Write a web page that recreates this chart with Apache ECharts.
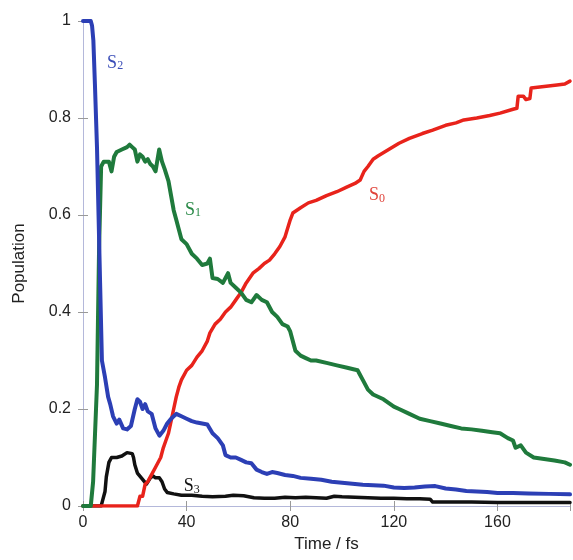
<!DOCTYPE html>
<html>
<head>
<meta charset="utf-8">
<script src="https://cdn.jsdelivr.net/npm/echarts@6/dist/echarts.min.js"></script>
<style>
  html, body { margin: 0; padding: 0; background: #fff; }
  #chart { width: 573px; height: 560px; }
</style>
</head>
<body>
<div id="chart"></div>
<script>
// Population dynamics of the electronic states S0–S3 versus time (fs)

const xTicks = [0, 40, 80, 120, 160];
const yTicks = [0, 0.2, 0.4, 0.6, 0.8, 1];

// S2 (blue)
const s2Time = [0, 3, 3.5, 4, 4.6, 5.4, 6, 6.6, 7.3, 8.5, 9.7, 10.5, 11.6, 13, 14, 15.5, 17, 18.5, 20, 21, 22, 23, 24, 25, 26.5, 28, 29.5, 31, 32.5, 34, 36, 38, 40, 42, 44, 46, 48, 50, 52, 54, 55, 57, 59, 61, 63, 65, 67, 69, 71, 73, 75, 78, 81, 84, 88, 92, 96, 100, 104, 108, 112, 116, 120, 124, 128, 132, 136, 140, 144, 148, 152, 156, 160, 166, 172, 180, 188];
const s2Pop  = [1.0, 1.0, 0.99, 0.96, 0.87, 0.74, 0.6, 0.46, 0.30, 0.265, 0.225, 0.21, 0.185, 0.17, 0.178, 0.16, 0.158, 0.165, 0.2, 0.22, 0.215, 0.2, 0.21, 0.195, 0.19, 0.16, 0.145, 0.155, 0.17, 0.18, 0.19, 0.185, 0.18, 0.175, 0.172, 0.17, 0.168, 0.15, 0.14, 0.125, 0.105, 0.1, 0.1, 0.095, 0.09, 0.088, 0.075, 0.07, 0.066, 0.07, 0.068, 0.064, 0.062, 0.058, 0.056, 0.054, 0.05, 0.048, 0.046, 0.044, 0.043, 0.042, 0.038, 0.037, 0.038, 0.04, 0.041, 0.036, 0.034, 0.031, 0.03, 0.029, 0.027, 0.027, 0.026, 0.025, 0.024];

// S1 (green)
const s1Time = [0, 3, 3.9, 5.4, 6.2, 7, 8, 10, 11, 12, 13, 15, 17, 18, 19, 20, 21, 22, 23, 24, 25, 26, 27, 28, 29.4, 30.5, 31.5, 33, 34, 35, 36, 37, 38, 40, 42, 44, 46, 48, 49, 50, 52, 54, 56, 57, 59, 61, 63, 65, 67, 69, 71, 73, 75, 77, 79, 80, 82, 84, 86, 88, 90, 94, 98, 102, 106, 108, 110, 112, 116, 120, 122, 126, 130, 134, 138, 142, 146, 150, 154, 158, 161, 164, 166, 167, 169, 171, 174, 178, 182, 186, 188];
const s1Pop  = [0, 0, 0.05, 0.25, 0.53, 0.70, 0.71, 0.71, 0.69, 0.72, 0.73, 0.735, 0.74, 0.745, 0.74, 0.735, 0.71, 0.725, 0.72, 0.71, 0.715, 0.705, 0.70, 0.69, 0.735, 0.71, 0.695, 0.67, 0.64, 0.61, 0.59, 0.57, 0.55, 0.54, 0.52, 0.51, 0.497, 0.50, 0.51, 0.47, 0.468, 0.46, 0.48, 0.46, 0.45, 0.44, 0.425, 0.42, 0.435, 0.425, 0.42, 0.40, 0.39, 0.375, 0.37, 0.36, 0.32, 0.31, 0.305, 0.30, 0.30, 0.295, 0.29, 0.285, 0.28, 0.26, 0.24, 0.23, 0.22, 0.205, 0.20, 0.19, 0.18, 0.175, 0.17, 0.165, 0.16, 0.158, 0.155, 0.152, 0.15, 0.14, 0.135, 0.12, 0.125, 0.11, 0.10, 0.097, 0.094, 0.09, 0.085];

// S0 (red)
const s0Time = [0, 21, 22, 23, 24, 25, 26, 28, 30, 31, 32, 33, 34, 35, 36, 37, 38, 40, 42, 44, 46, 48, 49, 51, 53, 55, 57, 59, 61, 63, 65.6, 68, 70, 72, 74, 76, 78, 80, 81, 84, 87, 90, 94, 98, 102, 105, 107, 108.5, 110, 112, 114, 118, 122, 126, 131, 135, 140, 144, 147, 152, 157, 161, 166, 167.5, 168, 170, 171, 172.5, 173, 178, 183, 186, 188];
const s0Pop  = [0, 0, 0.02, 0.02, 0.045, 0.05, 0.06, 0.08, 0.10, 0.12, 0.135, 0.15, 0.175, 0.20, 0.225, 0.245, 0.26, 0.28, 0.29, 0.307, 0.32, 0.34, 0.357, 0.375, 0.385, 0.40, 0.41, 0.425, 0.44, 0.46, 0.48, 0.49, 0.50, 0.507, 0.52, 0.535, 0.555, 0.59, 0.604, 0.615, 0.625, 0.63, 0.64, 0.648, 0.658, 0.665, 0.672, 0.69, 0.70, 0.715, 0.722, 0.735, 0.748, 0.758, 0.768, 0.775, 0.785, 0.79, 0.796, 0.80, 0.805, 0.81, 0.818, 0.82, 0.845, 0.845, 0.838, 0.84, 0.862, 0.865, 0.868, 0.87, 0.876];

// S3 (black)
const s3Time = [0, 7, 7.5, 8.5, 9, 10, 11, 13, 15, 17, 19, 19.5, 20, 21, 23, 24.5, 26, 27, 28, 29.5, 30.5, 31.5, 32.5, 35, 38, 42, 46, 50, 55, 58, 62, 66, 70, 74, 78, 82, 86, 90, 94, 97, 100, 105, 110, 115, 120, 125, 130, 134, 135, 140, 150, 160, 170, 180, 188];
const s3Pop  = [0, 0, 0.01, 0.03, 0.06, 0.09, 0.10, 0.10, 0.103, 0.11, 0.108, 0.10, 0.085, 0.068, 0.055, 0.045, 0.058, 0.062, 0.058, 0.058, 0.05, 0.035, 0.028, 0.025, 0.022, 0.022, 0.02, 0.019, 0.02, 0.022, 0.021, 0.017, 0.016, 0.016, 0.018, 0.017, 0.018, 0.017, 0.016, 0.02, 0.019, 0.018, 0.017, 0.016, 0.016, 0.015, 0.015, 0.014, 0.008, 0.008, 0.008, 0.007, 0.007, 0.007, 0.007];

// Curve annotations: [time, population]
const s2LabelAt = [12.4, 0.913];
const s1LabelAt = [42.5, 0.61];
const s0LabelAt = [113.5, 0.64];
const s3LabelAt = [42, 0.04];

const pairs = (t, v) => t.map((x, i) => [x, v[i]]);

const frameColor = '#b4b8da';
const serif = '"Liberation Serif", "DejaVu Serif", serif';

function stateLabel(coord, sub, color) {
  return {
    symbol: 'circle',
    symbolSize: 1,
    silent: true,
    itemStyle: { color: 'rgba(0,0,0,0)' },
    label: {
      show: true,
      position: 'inside',
      formatter: '{s|S}{b|' + sub + '}',
      rich: {
        s: { fontFamily: serif, fontSize: 18, color: color },
        b: { fontFamily: serif, fontSize: 12, color: color, verticalAlign: 'bottom', padding: [6, 0, 0, 0] }
      }
    },
    data: [{ coord: coord }]
  };
}

function lineSeries(name, data, color, width, labelCoord, sub, labelColor) {
  return {
    name: name,
    type: 'line',
    data: data,
    showSymbol: false,
    symbol: 'none',
    lineStyle: { color: color, width: width, join: 'round', cap: 'round' },
    itemStyle: { color: color },
    markPoint: stateLabel(labelCoord, sub, labelColor),
    z: 3
  };
}

const chart = echarts.init(document.getElementById('chart'), null, { renderer: 'canvas' });

const axisFont = { fontFamily: '"Liberation Sans", Arial, sans-serif', fontSize: 16, color: '#222' };

chart.setOption({
  animation: false,
  backgroundColor: '#fff',
  grid: { left: 83, right: 3, top: 21, bottom: 54, containLabel: false },
  xAxis: [
    {
      type: 'value', min: 0, max: 188, interval: 40,
      name: 'Time / fs', nameLocation: 'middle', nameGap: 30,
      nameTextStyle: { fontFamily: axisFont.fontFamily, fontSize: 17, color: '#222' },
      axisLine: { show: true, lineStyle: { color: frameColor, width: 1 } },
      axisTick: { show: true, inside: true, length: 5, lineStyle: { color: '#999' } },
      axisLabel: Object.assign({ margin: 9, formatter: v => (xTicks.includes(v) ? String(v) : '') }, axisFont),
      splitLine: { show: false }
    },
    {
      type: 'value', min: 0, max: 188, interval: 40, position: 'top',
      axisLine: { show: true, lineStyle: { color: frameColor, width: 1 } },
      axisTick: { show: true, inside: true, length: 5, lineStyle: { color: '#999' } },
      axisLabel: { show: false },
      splitLine: { show: false }
    }
  ],
  yAxis: [
    {
      type: 'value', min: 0, max: 1, interval: 0.2,
      name: 'Population', nameLocation: 'middle', nameGap: 55,
      nameTextStyle: { fontFamily: axisFont.fontFamily, fontSize: 17, color: '#222' },
      axisLine: { show: true, lineStyle: { color: frameColor, width: 1 } },
      axisTick: { show: true, inside: true, length: 5, lineStyle: { color: '#999' } },
      axisLabel: Object.assign({
        margin: 12,
        formatter: v => {
          const t = yTicks.find(y => Math.abs(y - v) < 1e-9);
          return t === undefined ? '' : (t === 0 || t === 1 ? String(t) : t.toFixed(1));
        }
      }, axisFont),
      splitLine: { show: false }
    },
    {
      type: 'value', min: 0, max: 1, interval: 0.2, position: 'right',
      axisLine: { show: true, lineStyle: { color: frameColor, width: 1 } },
      axisTick: { show: true, inside: true, length: 5, lineStyle: { color: '#999' } },
      axisLabel: { show: false },
      splitLine: { show: false }
    }
  ],
  series: [
    lineSeries('S3', pairs(s3Time, s3Pop), '#111111', 3.5, s3LabelAt, '3', '#111111'),
    lineSeries('S0', pairs(s0Time, s0Pop), '#e8231b', 3.5, s0LabelAt, '0', '#e0433a'),
    lineSeries('S1', pairs(s1Time, s1Pop), '#1f7a3c', 4, s1LabelAt, '1', '#2a8a48'),
    lineSeries('S2', pairs(s2Time, s2Pop), '#2c3fb5', 4, s2LabelAt, '2', '#3a4db8')
  ]
});
</script>
</body>
</html>
